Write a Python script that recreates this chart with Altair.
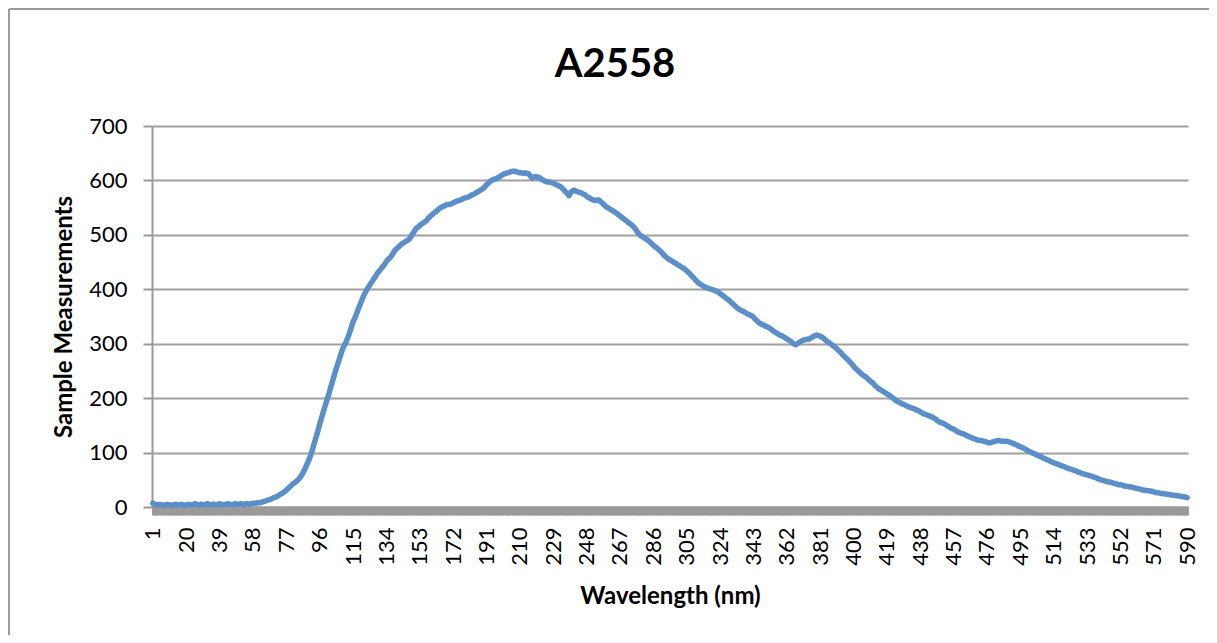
import altair as alt
import pandas as pd

# Category axis: sample index 1..590
wavelength = list(range(1, 591))

# Values (index 1..590)
measurements = [
    7, 5, 4, 4, 5, 4, 3, 4, 5, 4,
    4, 3, 4, 5, 4, 4, 5, 4, 3, 4,
    5, 4, 4, 5, 6, 5, 4, 5, 5, 4,
    5, 6, 5, 4, 5, 5, 4, 5, 6, 5,
    4, 5, 5, 6, 5, 4, 5, 6, 5, 5,
    6, 5, 5, 6, 6, 5, 6, 7, 7, 7,
    8, 8, 9, 10, 11, 12, 13, 14, 16, 17,
    18, 20, 22, 24, 26, 28, 31, 34, 37, 40,
    43, 45, 48, 51, 55, 60, 66, 73, 80, 88,
    96, 107, 118, 129, 140, 152, 163, 174, 185, 195,
    205, 217, 228, 239, 250, 260, 270, 280, 290, 297,
    303, 311, 320, 330, 340, 347, 355, 364, 372, 380,
    388, 394, 400, 405, 410, 415, 420, 425, 430, 434,
    438, 442, 446, 451, 455, 458, 462, 467, 472, 475,
    478, 481, 484, 486, 488, 490, 492, 497, 502, 507,
    512, 514, 517, 520, 522, 524, 527, 531, 534, 537,
    540, 542, 545, 548, 550, 552, 553, 555, 556, 556,
    557, 559, 560, 562, 563, 564, 565, 567, 568, 569,
    570, 572, 574, 575, 577, 579, 581, 583, 585, 588,
    592, 595, 598, 600, 602, 603, 604, 606, 608, 610,
    612, 613, 614, 615, 616, 617, 617, 616, 615, 614,
    614, 613, 614, 613, 612, 608, 604, 606, 607, 606,
    606, 603, 601, 599, 598, 597, 597, 596, 595, 593,
    592, 590, 589, 586, 583, 579, 576, 572, 578, 581,
    582, 580, 579, 578, 577, 575, 574, 571, 569, 567,
    565, 564, 563, 564, 564, 561, 558, 555, 552, 550,
    548, 546, 544, 542, 540, 537, 535, 532, 530, 527,
    525, 522, 520, 517, 514, 510, 505, 501, 498, 496,
    494, 492, 490, 487, 484, 481, 478, 476, 473, 470,
    467, 463, 460, 457, 455, 453, 451, 449, 447, 445,
    443, 441, 439, 437, 434, 431, 428, 424, 421, 417,
    414, 411, 409, 407, 405, 403, 402, 401, 400, 399,
    398, 396, 395, 392, 390, 387, 385, 382, 380, 377,
    374, 371, 368, 365, 363, 361, 360, 358, 356, 354,
    353, 351, 349, 345, 342, 339, 337, 335, 334, 332,
    331, 329, 327, 324, 322, 320, 318, 316, 315, 313,
    311, 309, 307, 305, 302, 300, 298, 300, 302, 304,
    306, 307, 308, 308, 309, 311, 313, 315, 316, 315,
    314, 312, 310, 307, 304, 302, 300, 297, 295, 292,
    289, 286, 283, 279, 276, 273, 270, 266, 263, 259,
    255, 252, 249, 246, 243, 241, 239, 236, 233, 230,
    228, 224, 221, 218, 216, 214, 212, 210, 208, 206,
    204, 201, 199, 196, 194, 192, 191, 189, 188, 186,
    185, 183, 182, 181, 180, 178, 177, 175, 173, 171,
    170, 169, 168, 166, 165, 163, 161, 158, 156, 155,
    154, 152, 150, 148, 146, 144, 143, 141, 139, 137,
    136, 135, 134, 132, 130, 129, 128, 126, 125, 124,
    123, 122, 122, 121, 120, 119, 118, 118, 119, 120,
    121, 122, 122, 121, 121, 121, 121, 120, 119, 118,
    117, 115, 114, 112, 111, 109, 108, 106, 104, 102,
    101, 99, 98, 96, 95, 93, 92, 90, 89, 87,
    86, 84, 83, 81, 80, 79, 78, 76, 75, 74,
    73, 71, 70, 69, 68, 67, 66, 64, 63, 62,
    61, 60, 59, 58, 57, 56, 55, 54, 52, 51,
    50, 49, 48, 47, 46, 46, 45, 44, 43, 42,
    41, 41, 40, 39, 38, 38, 37, 37, 36, 35,
    34, 34, 33, 32, 31, 31, 30, 30, 29, 29,
    28, 27, 26, 26, 25, 25, 24, 24, 23, 23,
    22, 22, 21, 21, 20, 20, 19, 19, 18, 17,
]

y_ticks = [0, 100, 200, 300, 400, 500, 600, 700]
label_step = 19

df = pd.DataFrame({"wavelength": wavelength, "measurement": measurements})

FONT = "Lato"
GRAY = "#9a9a9a"
W, H = 1036, 381

line = alt.Chart(df).mark_line(
    color="#5b8fca", strokeWidth=5.5, strokeCap="round", strokeJoin="round"
).encode(
    x=alt.X(
        "wavelength:Q",
        scale=alt.Scale(domain=[0.5, 590.5], nice=False, zero=False),
        axis=alt.Axis(
            title="Wavelength (nm)",
            values=wavelength,
            labelExpr=f"(datum.value - 1) % {label_step} == 0 ? datum.label : ''",
            labelAngle=270,
            labelOverlap=False,
            labelFlush=False,
            labelFontSize=22,
            labelFont=FONT,
            labelColor="#000000",
            labelPadding=12,
            tickSize=8,
            tickWidth=3,
            tickColor=GRAY,
            domainColor=GRAY,
            domainWidth=2,
            grid=False,
            titleFont=FONT,
            titleFontSize=24,
            titleFontWeight="bold",
            titleColor="#000000",
            titlePadding=19,
        ),
    ),
    y=alt.Y(
        "measurement:Q",
        scale=alt.Scale(domain=[0, 700], nice=False),
        axis=alt.Axis(
            title="Sample Measurements",
            values=y_ticks,
            labelFontSize=22,
            labelFont=FONT,
            labelColor="#000000",
            labelPadding=16,
            tickSize=9,
            tickWidth=2,
            tickColor=GRAY,
            domainColor=GRAY,
            domainWidth=2,
            grid=True,
            gridColor="#a0a0a0",
            gridWidth=2,
            titleFont=FONT,
            titleFontSize=24,
            titleFontWeight="bold",
            titleColor="#000000",
            titlePadding=12,
        ),
    ),
)

one = pd.DataFrame({"f": [0]})
frame_top = alt.Chart(one).mark_rule(color=GRAY, strokeWidth=2).encode(
    x=alt.value(-143), x2=alt.value(1100), y=alt.value(-117)
)
frame_left = alt.Chart(one).mark_rule(color=GRAY, strokeWidth=2).encode(
    x=alt.value(-143), y=alt.value(-117), y2=alt.value(700)
)

chart = alt.layer(frame_top, frame_left, line).properties(
    width=W,
    height=H,
    title=alt.TitleParams(
        "A2558",
        font=FONT,
        fontSize=40,
        fontWeight="bold",
        color="#000000",
        anchor="middle",
        dx=-55,
        offset=-77,
    ),
    autosize=alt.AutoSizeParams(type="none"),
    padding={"left": 144, "top": 118, "right": 21, "bottom": 128},
).configure_view(stroke=None)

chart.save("out.html", embed_options={"renderer": "svg", "actions": False})
